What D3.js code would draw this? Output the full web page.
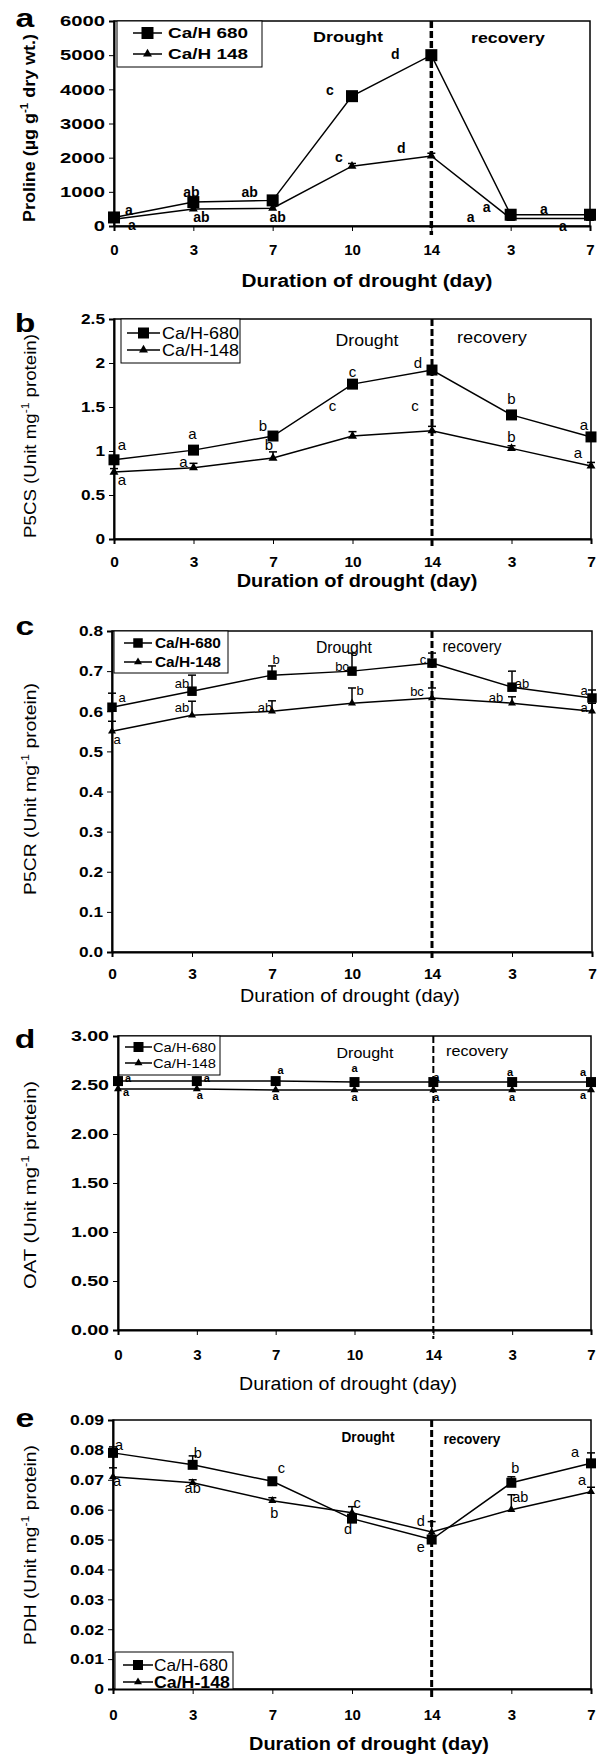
<html>
<head>
<script src="https://cdnjs.cloudflare.com/ajax/libs/d3/7.8.5/d3.min.js"></script>
<style>
  body { margin: 0; background: #fff; }
  text { font-family: "Liberation Sans", Arial, sans-serif; fill: #000; }
</style>
</head>
<body>
<svg id="chart" width="603" height="1755"></svg>
<script>
// x categories (drought days then recovery days)
var days = ["0", "3", "7", "10", "14", "3", "7"];
var phases = ["Drought", "recovery"];

// a: proline
var prolineH680 = [250, 700, 750, 3800, 5000, 330, 330];
var prolineH148 = [200, 500, 520, 1750, 2050, 220, 220];
var prolineErr680 = [0, 0, 0, 0, 0, 0, 0];
var prolineErr148 = [0, 0, 0, 80, 80, 0, 0];
var prolineLet680 = ["a", "ab", "ab", "c", "d", "a", "a"];
var prolineLet148 = ["a", "ab", "ab", "c", "d", "a", "a"];

// b: P5CS
var p5csH680 = [0.9, 1.01, 1.17, 1.76, 1.92, 1.41, 1.16];
var p5csH148 = [0.76, 0.81, 0.92, 1.17, 1.23, 1.03, 0.83];
var p5csErr680 = [0.03, 0.03, 0.03, 0.03, 0.04, 0.03, 0.03];
var p5csErr148 = [0.04, 0.05, 0.07, 0.05, 0.05, 0.03, 0.04];
var p5csLet680 = ["a", "a", "b", "c", "d", "b", "a"];
var p5csLet148 = ["a", "a", "b", "c", "c", "b", "a"];

// c: P5CR
var p5crH680 = [0.61, 0.65, 0.69, 0.70, 0.72, 0.66, 0.633];
var p5crH148 = [0.55, 0.59, 0.60, 0.62, 0.633, 0.62, 0.60];
var p5crErr680 = [0.035, 0.04, 0.023, 0.045, 0.025, 0.04, 0.02];
var p5crErr148 = [0.025, 0.035, 0.026, 0.038, 0.025, 0.016, 0.02];
var p5crLet680 = ["a", "ab", "b", "bc", "c", "ab", "a"];
var p5crLet148 = ["a", "ab", "ab", "b", "bc", "ab", "a"];

// d: OAT
var oatH680 = [2.54, 2.54, 2.54, 2.53, 2.53, 2.53, 2.53];
var oatH148 = [2.46, 2.46, 2.45, 2.45, 2.45, 2.45, 2.45];
var oatErr680 = [0, 0, 0, 0, 0, 0, 0];
var oatErr148 = [0, 0, 0, 0, 0, 0, 0];
var oatLet680 = ["a", "a", "a", "a", "a", "a", "a"];
var oatLet148 = ["a", "a", "a", "a", "a", "a", "a"];

// e: PDH
var pdhH680 = [0.079, 0.075, 0.0695, 0.057, 0.050, 0.069, 0.0755];
var pdhH148 = [0.071, 0.069, 0.063, 0.059, 0.0525, 0.060, 0.066];
var pdhErr680 = [0.002, 0.003, 0.001, 0.001, 0.001, 0.002, 0.0035];
var pdhErr148 = [0.003, 0.001, 0.001, 0.002, 0.0035, 0.005, 0.0015];
var pdhLet680 = ["a", "b", "c", "d", "e", "b", "a"];
var pdhLet148 = ["a", "ab", "b", "c", "d", "ab", "a"];

var svg = d3.select("#chart");

// the source figure has horizontally stretched lettering, so texts get squeezed/stretched to width
function stretch(t, sx) {
  var x = +t.attr("x") || 0, y = +t.attr("y") || 0;
  t.attr("transform", "translate(" + x + "," + y + ") scale(" + sx + ",1) translate(" + (-x) + "," + (-y) + ")");
}
function fitWidth(t, w) {
  stretch(t, w / t.node().getComputedTextLength());
}

// layout of the five panels
var panels = [
  { letter: "a", letY: 27, left: 114, right: 590, top: 21, bottom: 226, max: 6000, step: 1000, fmt: d3.format("d"),
    s680: prolineH680, s148: prolineH148, e680: prolineErr680, e148: prolineErr148,
    l680: prolineLet680, l148: prolineLet148,
    off680: [[15,-7],[-2,-10],[-23,-8],[-22,-6],[-36,-1],[-24,-8],[-46,-6]],
    off148: [[18,6],[8,8],[5,9],[-13,-9],[-30,-8],[-40,-1],[-27,8]],
    ytitle: ["Proline (µg g", "-1", " dry wt.)"], yTitleY: 128, yTitleX: 35, yTitleW: 188, yTitleFs: 17, yTitleFw: "bold",
    names: ["Ca/H 680", "Ca/H 148"],
    legend: { x: 117, y: 21, w: 145, h: 46, r1: 33, r2: 54, l0: 133, l1: 162, tx: 168, fs: 15, fw: "bold", tw: [80, 80] },
    tickFs: 15, tickPad: 13, yTickFs: 15, yTickSx: 1.35,
    titleX: 367, titleY: 287, titleW: 251, titleFw: "bold", titleFs: 19,
    letFs: 14, letFw: "bold",
    phaseX: [348, 508], phaseY: [42, 43], phaseW: [70, 74], phaseFs: 15, phaseFw: "bold",
    sq: 12, tri: 9, dashW: 3.5 },
  { letter: "b", letY: 332, left: 114, right: 591, top: 319, bottom: 539, max: 2.5, step: 0.5, fmt: d3.format("~g"),
    s680: p5csH680, s148: p5csH148, e680: p5csErr680, e148: p5csErr148,
    l680: p5csLet680, l148: p5csLet148,
    off680: [[8,-15],[-1,-16],[-10,-10],[0,-12],[-14,-7],[0,-16],[-7,-12]],
    off148: [[8,8],[-10,-6],[-4,-13],[-20,-30],[-17,-25],[0,-12],[-13,-13]],
    ytitle: ["P5CS (Unit mg", "-1", " protein)"], yTitleY: 436, yTitleX: 36, yTitleW: 204, yTitleFs: 17, yTitleFw: "normal",
    names: ["Ca/H-680", "Ca/H-148"],
    legend: { x: 121, y: 319, w: 119, h: 44, r1: 333, r2: 350, l0: 127, l1: 160, tx: 162, fs: 17, fw: "normal", tw: [77, 77] },
    tickFs: 15.5, tickPad: 12, yTickFs: 15, yTickSx: 1.15,
    titleX: 357, titleY: 587, titleW: 241, titleFw: "bold", titleFs: 17.5,
    letFs: 15, letFw: "normal",
    phaseX: [367, 492], phaseY: [346, 343], phaseW: [63, 70], phaseFs: 17, phaseFw: "normal",
    sq: 11, tri: 9, dashW: 3 },
  { letter: "c", letY: 635, left: 112, right: 592, top: 631, bottom: 952, max: 0.8, step: 0.1, fmt: d3.format(".1f"),
    s680: p5crH680, s148: p5crH148, e680: p5crErr680, e148: p5crErr148,
    l680: p5crLet680, l148: p5crLet148,
    off680: [[10,-10],[-10,-8],[4,-16],[-10,-5],[-9,-4],[10,-4],[-8,-8]],
    off148: [[5,8],[-10,-8],[-7,-4],[8,-13],[-15,-7],[-16,-6],[-8,-4]],
    ytitle: ["P5CR (Unit mg", "-1", " protein)"], yTitleY: 789, yTitleX: 36, yTitleW: 212, yTitleFs: 17, yTitleFw: "normal",
    names: ["Ca/H-680", "Ca/H-148"],
    legend: { x: 114, y: 631, w: 114, h: 42, r1: 643, r2: 662, l0: 124, l1: 152, tx: 155, fs: 15, fw: "bold", tw: [66, 66] },
    tickFs: 15.5, tickPad: 11, yTickFs: 15, yTickSx: 1.15,
    titleX: 350, titleY: 1002, titleW: 220, titleFw: "normal", titleFs: 18,
    letFs: 13, letFw: "normal",
    phaseX: [344, 472], phaseY: [653, 652], phaseW: [56, 59], phaseFs: 16, phaseFw: "normal",
    sq: 9.5, tri: 8, dashW: 3 },
  { letter: "d", letY: 1048, left: 118, right: 591, top: 1036, bottom: 1330, max: 3, step: 0.5, fmt: d3.format(".2f"),
    s680: oatH680, s148: oatH148, e680: oatErr680, e148: oatErr148,
    l680: oatLet680, l148: oatLet148,
    off680: [[10,-3],[10,-3],[5,-11],[0,-14],[3,-5],[-2,-10],[-8,-10]],
    off148: [[8,3],[3,6],[0,6],[0,7],[3,7],[0,7],[-8,5]],
    ytitle: ["OAT (Unit mg", "-1", " protein)"], yTitleY: 1185, yTitleX: 36, yTitleW: 208, yTitleFs: 17, yTitleFw: "normal",
    names: ["Ca/H-680", "Ca/H-148"],
    legend: { x: 119, y: 1036, w: 101, h: 39, r1: 1047, r2: 1063, l0: 125, l1: 152, tx: 153, fs: 13, fw: "normal", tw: [63, 63] },
    tickFs: 15, tickPad: 14, yTickFs: 14, yTickSx: 1.4,
    titleX: 348, titleY: 1390, titleW: 218, titleFw: "normal", titleFs: 17.5,
    letFs: 11, letFw: "bold",
    phaseX: [365, 477], phaseY: [1058, 1056], phaseW: [57, 62], phaseFs: 14.5, phaseFw: "normal",
    sq: 10, tri: 8, dashW: 2 },
  { letter: "e", letY: 1427, left: 113, right: 591, top: 1420, bottom: 1689, max: 0.09, step: 0.01, fmt: d3.format("~g"),
    s680: pdhH680, s148: pdhH148, e680: pdhErr680, e148: pdhErr148,
    l680: pdhLet680, l148: pdhLet148,
    off680: [[6,-8],[5,-12],[9,-13],[-4,10],[-11,7],[4,-15],[-16,-11]],
    off148: [[4,4],[0,5],[2,12],[5,-10],[-11,-11],[9,-13],[-9,-12]],
    ytitle: ["PDH (Unit mg", "-1", " protein)"], yTitleY: 1545, yTitleX: 36, yTitleW: 200, yTitleFs: 17, yTitleFw: "normal",
    names: ["Ca/H-680", "Ca/H-148"],
    legend: { x: 115, y: 1652, w: 118, h: 37, r1: 1665, r2: 1682, l0: 123, l1: 153, tx: 154, fs: 16, fw: "normal", tw: [74, 76] },
    tickFs: 15, tickPad: 15, yTickFs: 15, yTickSx: 1.17,
    titleX: 369, titleY: 1750, titleW: 240, titleFw: "bold", titleFs: 19,
    letFs: 14.5, letFw: "normal",
    phaseX: [368, 472], phaseY: [1442, 1444], phaseW: [53, 57], phaseFs: 14, phaseFw: "bold",
    sq: 10, tri: 8, dashW: 3 }
];

panels.forEach(function (p) {
  var g = svg.append("g");
  var x = d3.scalePoint().domain(d3.range(days.length)).range([p.left, p.right]);
  var y = d3.scaleLinear().domain([0, p.max]).range([p.bottom, p.top]);
  var yTicks = d3.range(0, p.max + p.step / 2, p.step);

  // frame
  g.append("rect")
    .attr("x", p.left).attr("y", p.top)
    .attr("width", p.right - p.left).attr("height", p.bottom - p.top)
    .attr("fill", "none").attr("stroke", "#000").attr("stroke-width", 1.5);

  var yAxis = d3.axisLeft(y).tickValues(yTicks).tickFormat(p.fmt).tickSize(5).tickPadding(4);
  var ya = g.append("g").attr("transform", "translate(" + p.left + ",0)").call(yAxis);
  ya.select(".domain").attr("stroke-width", 2);
  ya.selectAll("text").attr("font-size", p.yTickFs).attr("font-weight", "bold")
    .attr("font-family", "Liberation Sans, Arial, sans-serif")
    .attr("x", -9 / p.yTickSx)
    .attr("transform", "scale(" + p.yTickSx + ",1)");

  var xAxis = d3.axisBottom(x).tickFormat(function (i) { return days[i]; }).tickSize(5).tickPadding(p.tickPad);
  var xa = g.append("g").attr("transform", "translate(0," + p.bottom + ")").call(xAxis);
  xa.select(".domain").attr("stroke-width", 2);
  xa.selectAll("text").attr("font-size", p.tickFs).attr("font-weight", "bold")
    .attr("font-family", "Liberation Sans, Arial, sans-serif");

  // drought / recovery divider
  g.append("line")
    .attr("x1", x(4)).attr("x2", x(4))
    .attr("y1", p.top).attr("y2", p.bottom + 9)
    .attr("stroke", "#000").attr("stroke-width", p.dashW).attr("stroke-dasharray", "7,3");

  phases.forEach(function (t, k) {
    var pt = g.append("text").attr("x", p.phaseX[k]).attr("y", p.phaseY[k])
      .attr("text-anchor", "middle").attr("font-size", p.phaseFs).attr("font-weight", p.phaseFw).text(t);
    fitWidth(pt, p.phaseW[k]);
  });

  // axis titles
  var xt = g.append("text").attr("x", p.titleX).attr("y", p.titleY)
    .attr("text-anchor", "middle").attr("font-size", p.titleFs).attr("font-weight", p.titleFw)
    .text("Duration of drought (day)");
  fitWidth(xt, p.titleW);

  var ytg = g.append("g").attr("transform", "translate(" + p.yTitleX + "," + p.yTitleY + ") rotate(-90)");
  var yt = ytg.append("text").attr("x", 0).attr("y", 0)
    .attr("text-anchor", "middle").attr("font-size", p.yTitleFs).attr("font-weight", p.yTitleFw);
  yt.append("tspan").text(p.ytitle[0]);
  yt.append("tspan").attr("dy", -7).attr("font-size", 11).text(p.ytitle[1]);
  yt.append("tspan").attr("dy", 7).text(p.ytitle[2]);
  yt.attr("transform", "scale(" + (p.yTitleW / yt.node().getBBox().width) + ",1)");

  var lt = g.append("text").attr("x", 25).attr("y", p.letY).attr("text-anchor", "middle")
    .attr("font-size", 25).attr("font-weight", "bold").text(p.letter);
  stretch(lt, 1.35);

  var line = d3.line().x(function (d, i) { return x(i); }).y(function (d) { return y(d); });

  var series = [
    { vals: p.s148, err: p.e148, lets: p.l148, off: p.off148, shape: d3.symbolTriangle, size: p.tri },
    { vals: p.s680, err: p.e680, lets: p.l680, off: p.off680, shape: d3.symbolSquare, size: p.sq }
  ];

  series.forEach(function (s) {
    // error bars (upper)
    s.vals.forEach(function (v, i) {
      if (!s.err[i]) return;
      g.append("line").attr("x1", x(i)).attr("x2", x(i))
        .attr("y1", y(v)).attr("y2", y(v + s.err[i])).attr("stroke", "#000").attr("stroke-width", 1.5);
      g.append("line").attr("x1", x(i) - 4).attr("x2", x(i) + 4)
        .attr("y1", y(v + s.err[i])).attr("y2", y(v + s.err[i])).attr("stroke", "#000").attr("stroke-width", 1.5);
    });

    g.append("path").datum(s.vals).attr("d", line)
      .attr("fill", "none").attr("stroke", "#000").attr("stroke-width", 1.5);

    var area = s.shape == d3.symbolSquare ? s.size * s.size : s.size * s.size * 0.43;
    g.selectAll(null).data(s.vals).enter().append("path")
      .attr("transform", function (d, i) { return "translate(" + x(i) + "," + y(d) + ")"; })
      .attr("d", d3.symbol().type(s.shape).size(area))
      .attr("fill", "#000");

    g.selectAll(null).data(s.vals).enter().append("text")
      .attr("x", function (d, i) { return x(i) + s.off[i][0]; })
      .attr("y", function (d, i) { return y(d) + s.off[i][1] + p.letFs * 0.35; })
      .attr("text-anchor", "middle").attr("font-size", p.letFs).attr("font-weight", p.letFw)
      .text(function (d, i) { return s.lets[i]; });
  });

  // legend
  var L = p.legend;
  g.append("rect").attr("x", L.x).attr("y", L.y).attr("width", L.w).attr("height", L.h)
    .attr("fill", "#fff").attr("stroke", "#000").attr("stroke-width", 1);
  [[L.r1, d3.symbolSquare, p.sq * p.sq, p.names[0]], [L.r2, d3.symbolTriangle, p.tri * p.tri * 0.43, p.names[1]]]
    .forEach(function (r, k) {
      g.append("line").attr("x1", L.l0).attr("x2", L.l1).attr("y1", r[0]).attr("y2", r[0])
        .attr("stroke", "#000").attr("stroke-width", 1.5);
      g.append("path").attr("transform", "translate(" + (L.l0 + L.l1) / 2 + "," + r[0] + ")")
        .attr("d", d3.symbol().type(r[1]).size(r[2])).attr("fill", "#000");
      var t = g.append("text").attr("x", L.tx).attr("y", r[0] + L.fs * 0.36)
        .attr("font-size", L.fs)
        .attr("font-weight", p.letter == "e" && k == 1 ? "bold" : L.fw)
        .text(r[3]);
      fitWidth(t, L.tw[k]);
    });
});
</script>
</body>
</html>
